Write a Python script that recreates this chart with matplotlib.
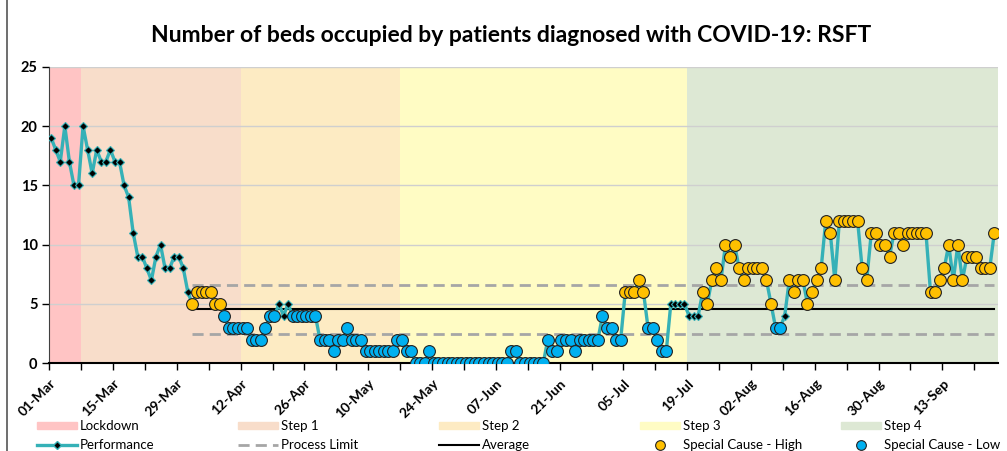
#!/usr/bin/env python3
"""Bed occupancy SPC chart for COVID-19 patients (RSFT)."""

import matplotlib

matplotlib.use("Agg")

import matplotlib.dates as mdates
import matplotlib.pyplot as plt
import numpy as np
import pandas as pd
from matplotlib.lines import Line2D
from matplotlib.patches import Patch

START = "2021-03-01"

# daily occupied beds, 01-Mar onwards
BEDS = [
    19, 18, 17, 20, 17, 15, 15, 20, 18, 16, 18, 17, 17, 18, 17, 17, 15, 14, 11, 9,
    9, 8, 7, 9, 10, 8, 8, 9, 9, 8, 6, 5, 6, 6, 6, 6, 5, 5, 4, 3,
    3, 3, 3, 3, 2, 2, 2, 3, 4, 4, 5, 4, 5, 4, 4, 4, 4, 4, 4, 2,
    2, 2, 1, 2, 2, 3, 2, 2, 2, 1, 1, 1, 1, 1, 1, 1, 2, 2, 1, 1,
    0, 0, 0, 1, 0, 0, 0, 0, 0, 0, 0, 0, 0, 0, 0, 0, 0, 0, 0, 0,
    0, 1, 1, 0, 0, 0, 0, 0, 0, 2, 1, 1, 2, 2, 2, 1, 2, 2, 2, 2,
    2, 4, 3, 3, 2, 2, 6, 6, 6, 7, 6, 3, 3, 2, 1, 1, 5, 5, 5, 5,
    4, 4, 4, 6, 5, 7, 8, 7, 10, 9, 10, 8, 7, 8, 8, 8, 8, 7, 5, 3,
    3, 4, 7, 6, 7, 7, 5, 6, 7, 8, 12, 11, 7, 12, 12, 12, 12, 12, 8, 7,
    11, 11, 10, 10, 9, 11, 11, 10, 11, 11, 11, 11, 11, 6, 6, 7, 8, 10, 7, 10,
    7, 9, 9, 9, 8, 8, 8, 11,
]

# day indices flagged as special cause
HIGH_DAYS = (list(range(31, 38)) + list(range(126, 131)) + list(range(143, 159))
             + list(range(162, 208)))
LOW_DAYS = (list(range(38, 50)) + list(range(53, 126)) + list(range(131, 136))
            + [159, 160])

LIMIT_FROM = 31
UPPER_LIMIT = 6.6
AVERAGE = 4.55
LOWER_LIMIT = 2.5

PHASE_NAMES = ["Lockdown", "Step 1", "Step 2", "Step 3", "Step 4"]
PHASE_STARTS = ["2021-03-01", "2021-03-08", "2021-04-12", "2021-05-17", "2021-07-19"]
PHASE_COLORS = ["#FFC4C4", "#F8DDCA", "#FDEBC3", "#FFFCC4", "#DDE8D4"]

LINE_COLOR = "#35B1B7"
HIGH_COLOR = "#FFC000"
LOW_COLOR = "#00B0F0"
LIMIT_COLOR = "#A6A6A6"

FONT = ["Lato", "DejaVu Sans"]


def main() -> None:
    plt.rcParams["font.family"] = FONT

    fig = plt.figure(figsize=(10.07, 4.51), dpi=100)
    ax = fig.add_axes([0.049, 0.1945, 0.942, 0.6575])

    base = mdates.datestr2num(START)
    x_end = base + 208.2
    n = len(BEDS)
    x = base + np.arange(n) + 0.4
    beds = np.array(BEDS)

    # phase backgrounds
    starts = [mdates.datestr2num(s) for s in PHASE_STARTS] + [x_end]
    for i, color in enumerate(PHASE_COLORS):
        ax.axvspan(starts[i], starts[i + 1], color=color, lw=0, zorder=0)

    # process limits and average
    xl = x[LIMIT_FROM:]
    ax.plot(xl, np.full(len(xl), UPPER_LIMIT), color=LIMIT_COLOR, lw=2.0,
            dashes=(4, 2.2), zorder=2)
    ax.plot(xl, np.full(len(xl), LOWER_LIMIT), color=LIMIT_COLOR, lw=2.0,
            dashes=(4, 2.2), zorder=2)
    ax.plot(xl, np.full(len(xl), AVERAGE), color="black", lw=1.5, zorder=2)

    # performance
    ax.plot(x, beds, color=LINE_COLOR, lw=2.4, marker="D", ms=4,
            mfc="black", mec=LINE_COLOR, mew=0.8, zorder=3)
    ax.plot(x[HIGH_DAYS], beds[HIGH_DAYS], ls="none", marker="o", ms=8.5,
            mfc=HIGH_COLOR, mec="#222222", mew=0.8, zorder=4)
    ax.plot(x[LOW_DAYS], beds[LOW_DAYS], ls="none", marker="o", ms=8.5,
            mfc=LOW_COLOR, mec="#222222", mew=0.8, zorder=4)

    ax.set_xlim(base, x_end)
    ax.set_ylim(0, 25)
    ax.set_yticks(range(0, 26, 5))
    ax.set_axisbelow(True)
    ax.grid(True, axis="y", color="#CFCFCF", lw=1.0)

    major = base + np.arange(0, 208, 14)
    labels = pd.date_range(START, periods=len(major), freq="14D").strftime("%d-%b")
    ax.set_xticks(major)
    ax.set_xticklabels(labels, rotation=45, ha="right", va="top",
                       rotation_mode="anchor", fontweight="bold", fontsize=10)
    ax.set_xticks(base + np.arange(7, 208, 14), minor=True)
    ax.tick_params(axis="x", which="both", length=5, width=1, color="black", pad=5)
    ax.tick_params(axis="y", length=5, width=1, color="black", labelsize=10.5)
    for lbl in ax.get_yticklabels():
        lbl.set_fontweight("bold")

    for side in ("top", "right"):
        ax.spines[side].set_visible(False)
    ax.spines["left"].set_color("#404040")
    ax.spines["bottom"].set_color("black")
    ax.spines["bottom"].set_linewidth(1.5)

    fig.text(0.508, 0.922, "Number of beds occupied by patients diagnosed with COVID-19: RSFT",
             ha="center", va="center", fontsize=16.5, fontweight="bold")

    # legend: five columns of two rows
    handles = [
        (Patch(color=PHASE_COLORS[0]), Line2D([], [], color=LINE_COLOR, lw=2.4, marker="D",
                                             ms=4, mfc="black", mec=LINE_COLOR)),
        (Patch(color=PHASE_COLORS[1]), Line2D([], [], color=LIMIT_COLOR, lw=2.0, dashes=(4, 2.2))),
        (Patch(color=PHASE_COLORS[2]), Line2D([], [], color="black", lw=1.5)),
        (Patch(color=PHASE_COLORS[3]), Line2D([], [], ls="none", marker="o", ms=7,
                                             mfc=HIGH_COLOR, mec="#222222", mew=0.8)),
        (Patch(color=PHASE_COLORS[4]), Line2D([], [], ls="none", marker="o", ms=7,
                                             mfc=LOW_COLOR, mec="#222222", mew=0.8)),
    ]
    names = [
        ("Lockdown", "Performance"),
        ("Step 1", "Process Limit"),
        ("Step 2", "Average"),
        ("Step 3", "Special Cause - High"),
        ("Step 4", "Special Cause - Low"),
    ]
    for i, (hs, ns) in enumerate(zip(handles, names)):
        fig.legend(list(hs), list(ns), loc="upper left",
                   bbox_to_anchor=((37 + 201 * i) / 1007, 0.068),
                   frameon=False, fontsize=9.5, handlelength=3.0, handleheight=0.5,
                   handletextpad=0.25, labelspacing=0.5, borderpad=0.0,
                   borderaxespad=0.0)

    fig.add_artist(Line2D([7 / 1007, 7 / 1007], [0, 1], color="#555555", lw=1.2,
                          transform=fig.transFigure))

    fig.savefig("out.png", dpi=100)
    plt.close(fig)


if __name__ == "__main__":
    main()
